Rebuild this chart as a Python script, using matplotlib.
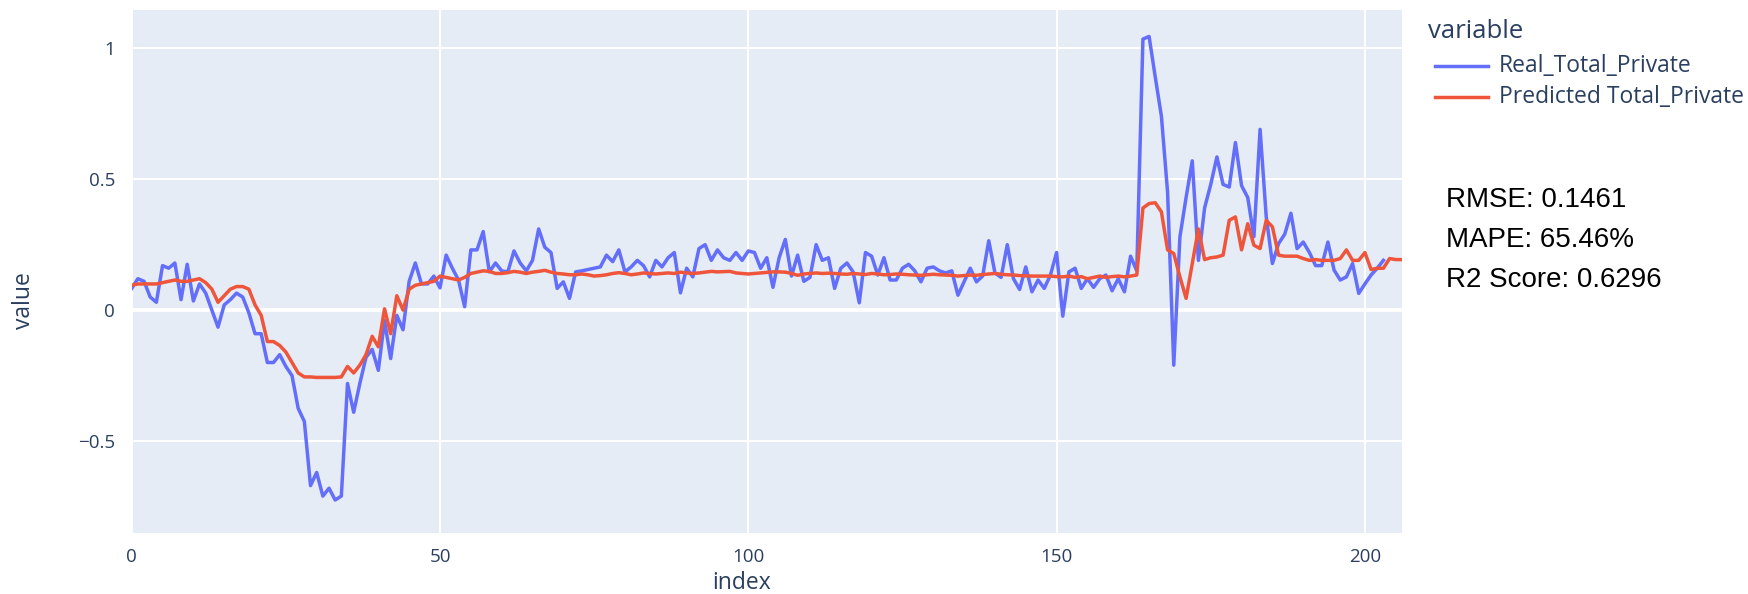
import numpy as np
import matplotlib.pyplot as plt
from matplotlib.lines import Line2D

# values
real_total_private = [
    0.083, 0.12, 0.11, 0.05, 0.03, 0.17, 0.16, 0.18, 0.04, 0.175,
    0.035, 0.10, 0.065, 0.0, -0.065, 0.02, 0.04, 0.065, 0.05, -0.01,
    -0.09, -0.09, -0.2, -0.2, -0.17, -0.215, -0.25, -0.375, -0.425, -0.67,
    -0.62, -0.71, -0.68, -0.725, -0.71, -0.28, -0.39, -0.28, -0.18, -0.15,
    -0.23, -0.04, -0.185, -0.02, -0.075, 0.11, 0.18, 0.10, 0.10, 0.13,
    0.085, 0.21, 0.16, 0.115, 0.013, 0.23, 0.23, 0.30, 0.146, 0.18,
    0.15, 0.146, 0.226, 0.18, 0.15, 0.19, 0.31, 0.24, 0.22, 0.083,
    0.108, 0.045, 0.146, 0.15, 0.155, 0.16, 0.165, 0.21, 0.185, 0.23,
    0.146, 0.165, 0.19, 0.17, 0.127, 0.19, 0.165, 0.20, 0.22, 0.066,
    0.16, 0.127, 0.235, 0.25, 0.19, 0.23, 0.20, 0.19, 0.22, 0.19,
    0.226, 0.22, 0.16, 0.20, 0.087, 0.20, 0.27, 0.13, 0.21, 0.11,
    0.125, 0.25, 0.19, 0.20, 0.083, 0.16, 0.18, 0.146, 0.028, 0.22,
    0.206, 0.134, 0.20, 0.115, 0.115, 0.16, 0.175, 0.15, 0.108, 0.16,
    0.165, 0.15, 0.142, 0.15, 0.057, 0.108, 0.16, 0.108, 0.13, 0.265,
    0.142, 0.125, 0.25, 0.12, 0.079, 0.165, 0.07, 0.115, 0.083, 0.134,
    0.22, -0.023, 0.146, 0.16, 0.083, 0.12, 0.087, 0.12, 0.134, 0.074,
    0.12, 0.07, 0.206, 0.15, 1.035, 1.045, 0.89, 0.74, 0.45, -0.21,
    0.28, 0.43, 0.57, 0.19, 0.39, 0.48, 0.585, 0.48, 0.47, 0.64,
    0.475, 0.43, 0.28, 0.69, 0.356, 0.178, 0.254, 0.29, 0.37, 0.235,
    0.26, 0.22, 0.17, 0.17, 0.26, 0.153, 0.115, 0.127, 0.178, 0.064,
    0.10, 0.134, 0.16, 0.19,
]

predicted_total_private = [
    0.095, 0.10, 0.10, 0.10, 0.10, 0.105, 0.11, 0.115, 0.11, 0.11,
    0.115, 0.12, 0.105, 0.08, 0.03, 0.055, 0.08, 0.09, 0.09, 0.08,
    0.02, -0.02, -0.12, -0.12, -0.135, -0.16, -0.20, -0.24, -0.255, -0.255,
    -0.257, -0.257, -0.257, -0.257, -0.255, -0.215, -0.24, -0.21, -0.17, -0.10,
    -0.14, 0.005, -0.09, 0.055, 0.0, 0.08, 0.095, 0.10, 0.105, 0.11,
    0.13, 0.125, 0.12, 0.115, 0.125, 0.14, 0.145, 0.15, 0.148, 0.14,
    0.14, 0.143, 0.148, 0.145, 0.14, 0.145, 0.148, 0.152, 0.145, 0.14,
    0.138, 0.135, 0.135, 0.138, 0.135, 0.13, 0.132, 0.135, 0.14, 0.143,
    0.14, 0.135, 0.138, 0.142, 0.14, 0.138, 0.14, 0.142, 0.14, 0.145,
    0.142, 0.14, 0.142, 0.145, 0.148, 0.146, 0.147, 0.148, 0.142, 0.14,
    0.138, 0.14, 0.142, 0.144, 0.146, 0.146, 0.145, 0.14, 0.133, 0.138,
    0.14, 0.142, 0.14, 0.141, 0.14, 0.138, 0.137, 0.14, 0.138, 0.136,
    0.14, 0.138, 0.135, 0.136, 0.138, 0.137, 0.135, 0.134, 0.133, 0.135,
    0.137, 0.135, 0.134, 0.133, 0.13, 0.132, 0.134, 0.133, 0.136, 0.138,
    0.14, 0.137, 0.135, 0.134, 0.132, 0.131, 0.13, 0.13, 0.13, 0.13,
    0.128, 0.127, 0.13, 0.125, 0.128, 0.12, 0.125, 0.13, 0.125, 0.128,
    0.13, 0.127, 0.13, 0.134, 0.39, 0.407, 0.41, 0.375, 0.23, 0.216,
    0.127, 0.045, 0.178, 0.31, 0.193, 0.20, 0.203, 0.21, 0.343, 0.356,
    0.23, 0.33, 0.248, 0.235, 0.343, 0.318, 0.21, 0.206, 0.206, 0.206,
    0.197, 0.19, 0.193, 0.19, 0.19, 0.19, 0.197, 0.23, 0.19, 0.19,
    0.22, 0.155, 0.16, 0.16, 0.197, 0.193, 0.193,
]

series_names = ['Real_Total_Private', 'Predicted Total_Private']
series_colors = ['#636EFA', '#EF553B']
metrics = ['RMSE: 0.1461', 'MAPE: 65.46%', 'R2 Score: 0.6296']
y_ticks = [-0.5, 0, 0.5, 1]
y_ticklabels = ['\u22120.5', '0', '0.5', '1']
x_ticks = [0, 50, 100, 150, 200]

W, H = 1748, 594
txt = '#2a3f5f'
plt.rcParams['font.family'] = ['Open Sans', 'DejaVu Sans']

fig = plt.figure(figsize=(W / 100, H / 100), dpi=100)
ax = fig.add_axes([131.7 / W, 1 - 533 / H, (1401.9 - 131.7) / W, (533 - 10) / H])
ax.set_facecolor('#E5ECF6')

x_real = np.arange(len(real_total_private))
x_pred = np.arange(len(predicted_total_private))
ax.plot(x_real, real_total_private, color=series_colors[0], linewidth=2.5, zorder=3)
ax.plot(x_pred, predicted_total_private, color=series_colors[1], linewidth=2.5, zorder=3)

ax.set_xlim(0, len(predicted_total_private) - 1)
ax.set_ylim(-0.851, 1.146)
ax.set_xticks(x_ticks)
ax.set_yticks(y_ticks)
ax.set_yticklabels(y_ticklabels)
ax.grid(True, color='white', linewidth=1.5)
ax.axhline(0, color='white', linewidth=2.8, zorder=1)
ax.set_axisbelow(True)
for s in ax.spines.values():
    s.set_visible(False)
ax.tick_params(axis='both', length=0, labelsize=13.5, labelcolor=txt)
ax.tick_params(axis='y', pad=12)
ax.tick_params(axis='x', pad=11)

fig.text(742 / W, 1 - 583 / H, 'index', fontsize=16.5, color=txt, ha='center', va='center')
fig.text(24 / W, 1 - 301 / H, 'value', fontsize=16.5, color=txt, ha='center', va='center', rotation=90)

# legend drawn by hand, like plotly's
fig.text(1428 / W, 1 - 32 / H, 'variable', fontsize=18.5, color=txt, ha='left', va='center')
for k, (name, col) in enumerate(zip(series_names, series_colors)):
    yy = 1 - (66 + 31 * k) / H
    fig.add_artist(Line2D([1435 / W, 1488 / W], [yy, yy], color=col, linewidth=2.5,
                          transform=fig.transFigure))
    fig.text(1499 / W, yy, name, fontsize=16.5, color=txt, ha='left', va='center')

for k, m in enumerate(metrics):
    fig.text(1446 / W, 1 - (200 + 40 * k) / H, m, fontsize=20,
             family='Liberation Sans', color='black', ha='left', va='center')

fig.savefig('out.png', dpi=100)
